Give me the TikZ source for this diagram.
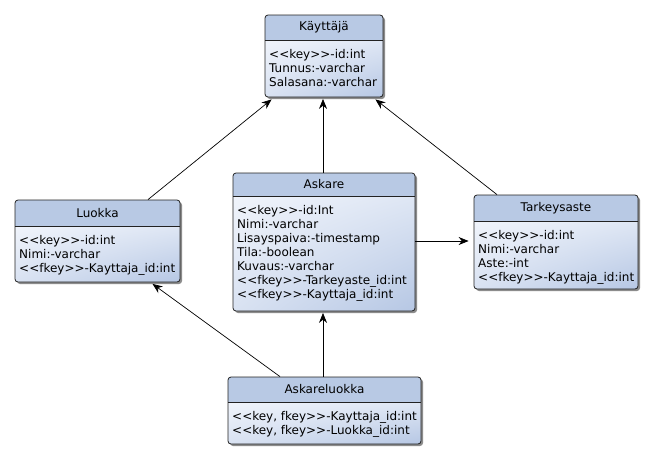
\documentclass[tikz,border=0pt]{standalone}
\usepackage{fontspec}
\setmainfont{DejaVu Sans}
\usetikzlibrary{arrows.meta,shadings}
\definecolor{headc}{HTML}{B8C9E4}
\definecolor{bodytop}{HTML}{F0F4FB}
\definecolor{bodybot}{HTML}{B6C7E4}
\definecolor{edgec}{HTML}{222222}
\tikzset{
  classframe/.style={draw=edgec, line width=0.8pt, rounded corners=3pt, inner sep=0pt},
  classtitle/.style={font=\fontsize{12}{14}\selectfont, inner sep=0pt},
  classbody/.style={font=\fontsize{12}{14}\selectfont, align=left, inner sep=0pt, anchor=north west},
  assoc/.style={draw=black, line width=0.7pt, -{Stealth[length=10pt,width=8pt]}},
}
\newcommand\umlclass[8]{%
  \fill[black!45, rounded corners=3pt] (#2+2,#3+2) rectangle (#4+2,#5+2);
  \begin{scope}
    \clip[rounded corners=3pt] (#2,#3) rectangle (#4,#5);
    \shade[upper left=bodytop, upper right=bodytop!70!bodybot, lower left=bodytop!60!bodybot, lower right=bodybot] (#2,#6) rectangle (#4,#5);
    \fill[headc] (#2,#3) rectangle (#4,#6);
  \end{scope}
  \draw[edgec, line width=0.6pt] (#2,#6) -- (#4,#6);
  \node[classframe, minimum width={(#4-#2)*1pt}, minimum height={(#5-#3)*1pt}] (#1) at ({(#2+#4)/2},{(#3+#5)/2}) {};
  \node[classtitle] (#1-title) at ({(#2+#4)/2},{(#3+#6)/2}) {#7};
  \node[classbody] (#1-body) at (#2+4,#6+9.5) {#8};
}
\begin{document}
\begin{tikzpicture}[x=1pt,y=-1pt]
\useasboundingbox (0,0) rectangle (653,458);
\fill[white] (0,0) rectangle (653,458);

\umlclass{kayttaja}{265}{15}{383}{97}{40}{Käyttäjä}{<{}<key>{}>-id:int\\Tunnus:-varchar\\Salasana:-varchar}
\umlclass{luokka}{15}{200}{180}{282}{226}{Luokka}{<{}<key>{}>-id:int\\Nimi:-varchar\\<{}<fkey>{}>-Kayttaja\_id:int}
\umlclass{askare}{233}{173}{415}{311}{196}{Askare}{<{}<key>{}>-id:Int\\Nimi:-varchar\\Lisayspaiva:-timestamp\\Tila:-boolean\\Kuvaus:-varchar\\<{}<fkey>{}>-Tarkeyaste\_id:int\\<{}<fkey>{}>-Kayttaja\_id:int}
\umlclass{tarkeys}{474}{195}{638}{289}{221}{Tarkeysaste}{<{}<key>{}>-id:int\\Nimi:-varchar\\Aste:-int\\<{}<fkey>{}>-Kayttaja\_id:int}
\umlclass{askluokka}{228}{377}{421}{444}{402}{Askareluokka}{<{}<key, fkey>{}>-Kayttaja\_id:int\\<{}<key, fkey>{}>-Luokka\_id:int}

\draw[assoc] ([xshift=50.5pt]luokka.north) -- ([xshift=7pt,yshift=-2pt]kayttaja.south west);
\draw[assoc] ([xshift=-1pt]askare.north) -- ([xshift=-1pt,yshift=-1.5pt]kayttaja.south);
\draw[assoc] ([xshift=-59pt]tarkeys.north) -- ([xshift=-8pt,yshift=-2pt]kayttaja.south east);
\draw[assoc] ([yshift=1pt]askare.east) -- ([xshift=-5pt,yshift=1pt]tarkeys.west);
\draw[assoc] ([xshift=-44.5pt]askluokka.north) -- ([xshift=55pt,yshift=-1.5pt]luokka.south);
\draw[assoc] ([xshift=-1.5pt]askluokka.north) -- ([xshift=-1pt,yshift=-1.5pt]askare.south);
\end{tikzpicture}
\end{document}
